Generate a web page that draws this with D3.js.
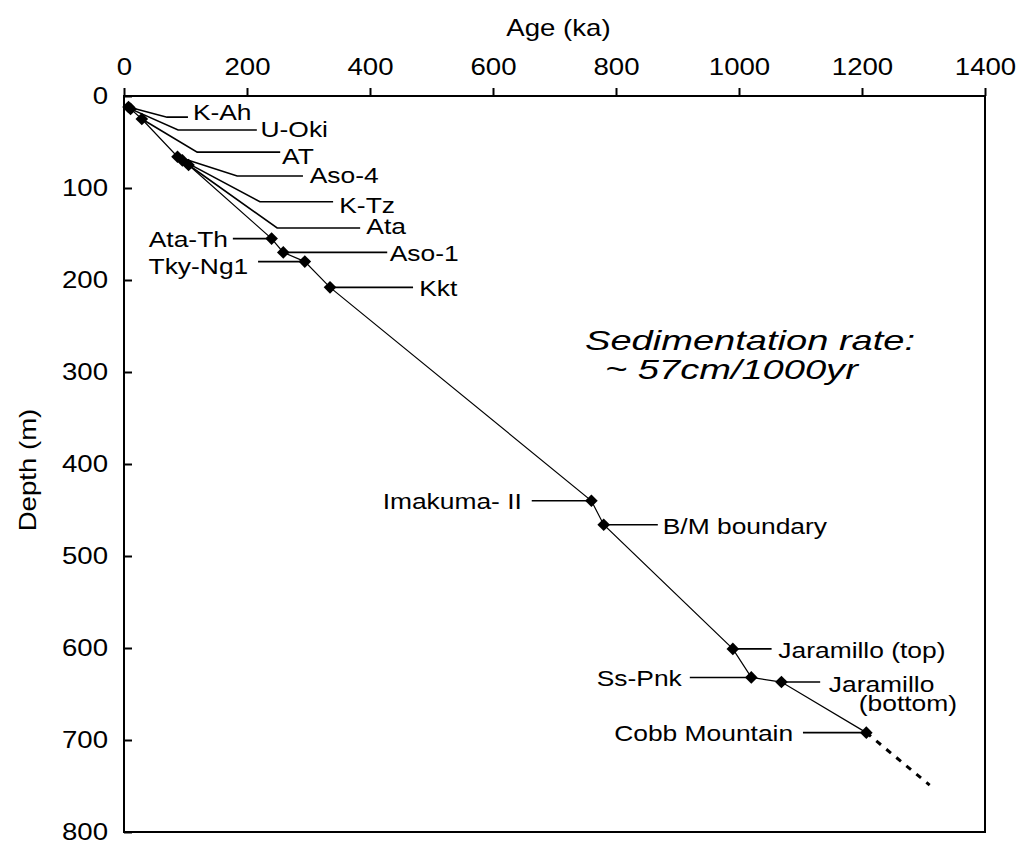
<!DOCTYPE html>
<html>
<head>
<script src="https://d3js.org/d3.v7.min.js"></script>
<style>
  body { margin: 0; background: #fff; }
  text { font-family: "Liberation Sans", Arial, sans-serif; fill: #000; }
</style>
</head>
<body>
<div id="chart"></div>
<script>
// tephra / palaeomagnetic horizons: age (ka) vs depth (m)
const names  = ["K-Ah", "U-Oki", "AT", "Aso-4", "K-Tz", "Ata", "Ata-Th", "Aso-1", "Tky-Ng1", "Kkt",
                "Imakuma- II", "B/M boundary", "Jaramillo (top)", "Ss-Pnk", "Jaramillo (bottom)", "Cobb Mountain"];
const ages   = [7.3, 10.7, 29, 87, 95, 105, 240, 259, 294, 335, 760, 780, 990, 1020, 1069, 1207];
const depths = [12, 14, 25, 66, 70, 75, 155, 170, 180, 208, 440, 466, 601, 632, 637, 692];

// extrapolated part below Cobb Mountain
const extAges   = [1207, 1310];
const extDepths = [692, 749];

const xTicks = [0, 200, 400, 600, 800, 1000, 1200, 1400];
const yTicks = [0, 100, 200, 300, 400, 500, 600, 700, 800];

const note = ["Sedimentation rate:", "~ 57cm/1000yr"];

// label layout, in data units: elbow point (or null), end of the leader, text position
const labelLayout = [
  { elbow: [70, 23],   end: 104,  text: [112, 17],    anchor: "start" },
  { elbow: [88, 37],   end: 216,  text: [222, 36],    anchor: "start" },
  { elbow: [119, 61],  end: 254,  text: [257, 65],    anchor: "start" },
  { elbow: [184, 87],  end: 291,  text: [302, 86],    anchor: "start" },
  { elbow: [221, 115], end: 340,  text: [350, 118],   anchor: "start" },
  { elbow: [249, 143.5], end: 384, text: [394, 141],  anchor: "start" },
  { elbow: null, end: 177,  text: [169, 155.5], anchor: "end" },
  { elbow: null, end: 428,  text: [432, 170],   anchor: "start" },
  { elbow: null, end: 218,  text: [202, 185],   anchor: "end" },
  { elbow: null, end: 470,  text: [480, 208.5], anchor: "start" },
  { elbow: null, end: 663,  text: [647, 440],   anchor: "end" },
  { elbow: null, end: 868,  text: [876, 467],   anchor: "start" },
  { elbow: null, end: 1053, text: [1064, 602],  anchor: "start" },
  { elbow: null, end: 920,  text: [907, 632.5], anchor: "end" },
  { elbow: null, end: 1132, text: [1146, 639],  anchor: "start" },
  { elbow: null, end: 1104, text: [1088, 692.5], anchor: "end" }
];

const width = 1019, height = 844;
const sx = 1.2;   // the original lettering is a little wide
const fs = 22;

const svg = d3.select("#chart").append("svg")
  .attr("width", width)
  .attr("height", height);

const x = d3.scaleLinear().domain([0, 1400]).range([124, 985]);
const y = d3.scaleLinear().domain([0, 800]).range([96, 832]);

// frame
svg.append("rect")
  .attr("x", x(0)).attr("y", y(0))
  .attr("width", x(1400) - x(0)).attr("height", y(800) - y(0))
  .attr("fill", "none").attr("stroke", "#000").attr("stroke-width", 2);

// top axis, ticks outside
const gx = svg.append("g")
  .attr("transform", `translate(0,${y(0)})`)
  .call(d3.axisTop(x).tickValues(xTicks).tickFormat(d3.format("d")).tickSize(8).tickPadding(13));

// left axis, ticks inside
const gy = svg.append("g")
  .attr("transform", `translate(${x(0)},0)`)
  .call(d3.axisLeft(y).tickValues(yTicks).tickFormat(d3.format("d")).tickSize(-8).tickPadding(16));

[gx, gy].forEach(g => {
  g.select(".domain").remove();
  g.selectAll(".tick line").attr("stroke", "#000").attr("stroke-width", 2);
  g.selectAll(".tick text")
    .attr("font-size", fs + 1)
    .attr("font-family", "Liberation Sans, Arial, sans-serif")
    .attr("fill", "#000")
    .each(function () {
      const t = d3.select(this);
      const tx = +t.attr("x") || 0;
      t.attr("x", tx / sx).attr("transform", `scale(${sx},1)`);
    });
});

// axis titles
svg.append("text")
  .attr("transform", `translate(${(x(0) + x(1400)) / 2 + 4},36) scale(${sx},1)`)
  .attr("text-anchor", "middle")
  .attr("font-size", fs + 1)
  .text("Age (ka)");

svg.append("text")
  .attr("transform", `translate(36,${(y(0) + y(800)) / 2 + 6}) rotate(-90) scale(${sx},1)`)
  .attr("text-anchor", "middle")
  .attr("font-size", fs + 1)
  .text("Depth (m)");

// age-depth line
const pts = ages.map((a, i) => [a, depths[i]]);
const line = d3.line().x(d => x(d[0])).y(d => y(d[1]));

svg.append("path")
  .datum(pts)
  .attr("fill", "none")
  .attr("stroke", "#000")
  .attr("stroke-width", 1.2)
  .attr("d", line);

svg.append("path")
  .datum(extAges.map((a, i) => [a, extDepths[i]]))
  .attr("fill", "none")
  .attr("stroke", "#000")
  .attr("stroke-width", 3)
  .attr("stroke-dasharray", "6,7")
  .attr("d", line);

// leader lines and labels
const labels = svg.append("g");
labelLayout.forEach((l, i) => {
  const p = [ages[i], depths[i]];
  const path = l.elbow ? [p, l.elbow, [l.end, l.elbow[1]]] : [p, [l.end, depths[i]]];
  labels.append("path")
    .datum(path)
    .attr("fill", "none")
    .attr("stroke", "#000")
    .attr("stroke-width", 1.6)
    .attr("d", line);

  const parts = names[i] === "Jaramillo (bottom)" ? ["Jaramillo", "(bottom)"] : [names[i]];
  const t = labels.append("text")
    .attr("transform", `translate(${x(l.text[0])},${y(l.text[1])}) scale(${sx},1)`)
    .attr("text-anchor", l.anchor)
    .attr("dominant-baseline", "central")
    .attr("font-size", fs);
  parts.forEach((s, k) => {
    t.append("tspan")
      .attr("x", k * 25)
      .attr("dy", k ? 19 : 0)
      .text(s);
  });
});

// markers
svg.append("g").selectAll("path")
  .data(pts)
  .join("path")
  .attr("transform", d => `translate(${x(d[0])},${y(d[1])}) rotate(45)`)
  .attr("d", d3.symbol().type(d3.symbolSquare).size(80))
  .attr("fill", "#000");

// sedimentation-rate note
note.forEach((s, k) => {
  svg.append("text")
    .attr("transform", `translate(${585 + k * 20},${350 + k * 29}) scale(1.36,1)`)
    .attr("font-size", 28)
    .attr("font-style", "italic")
    .text(s);
});
</script>
</body>
</html>
